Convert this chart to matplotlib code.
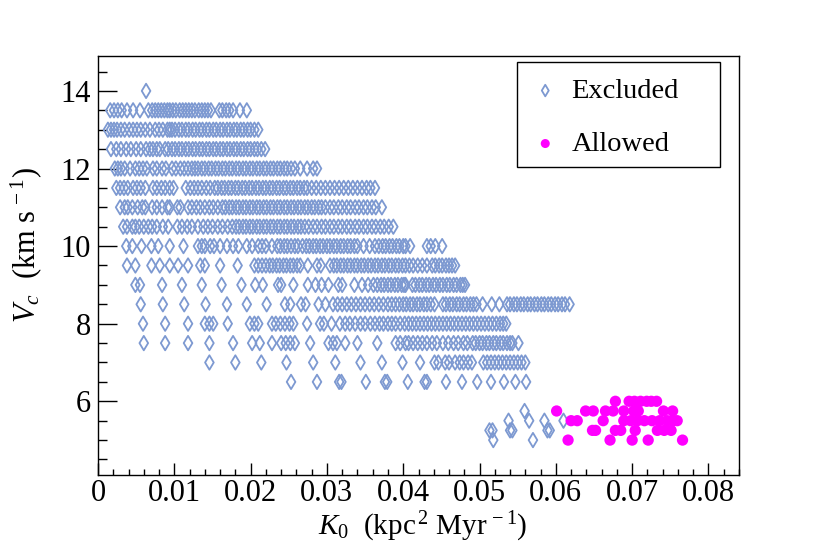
import numpy as np
import matplotlib
matplotlib.use("Agg")
import matplotlib.pyplot as plt
from matplotlib.patches import Rectangle

plt.rcParams['font.family'] = ['Liberation Serif', 'DejaVu Serif']
plt.rcParams['mathtext.fontset'] = 'custom'
plt.rcParams['mathtext.rm'] = 'Liberation Serif'
plt.rcParams['mathtext.it'] = 'Liberation Serif:italic'

# ---- data: K0 in units of 1e-3 kpc^2/Myr, grouped by Vc (km/s) ----
excl_vc = [14.0, 13.5, 13.0, 12.5, 12.0, 11.5, 11.0, 10.5, 10.0, 9.5, 9.0,
           8.5, 8.0, 7.5, 7.0, 6.5, 5.75, 5.5, 5.25, 5.0]
excl_k0 = [
    [6.3],
    [1.6, 2.1, 2.6, 3.1, 3.8, 4.6, 5.5, 6.6, 7.1, 7.5, 7.9, 8.3, 8.7, 9.1, 9.4, 9.8,
     10.2, 10.7, 11.1, 11.5, 11.9, 12.3, 12.7, 13.2, 13.6, 14.0, 14.4, 14.8,
     15.9, 16.3, 16.8, 17.2, 17.7, 18.6, 19.5],
    [1.3, 1.7, 2.1, 2.5, 3.0, 3.5, 4.1, 4.6, 5.1, 5.6, 6.2, 6.8, 7.5, 8.0, 8.5, 9.1,
     9.4, 9.7, 10.1, 10.6, 11.0, 11.5, 11.9, 12.4, 12.8, 13.3, 13.7, 14.2, 14.6,
     15.1, 15.5, 16.0, 16.4, 16.9, 17.3, 17.8, 18.2, 18.7, 19.1, 19.6, 20.0, 20.5, 21.0],
    [1.7, 2.4, 3.0, 3.7, 4.3, 5.0, 5.6, 6.3, 6.8, 7.2, 7.7, 8.1, 8.8, 9.2, 9.7, 10.1,
     10.6, 11.0, 11.5, 11.9, 12.4, 12.8, 13.3, 13.7, 14.2, 14.6, 15.1, 15.5, 16.0,
     16.4, 16.9, 17.3, 17.8, 18.2, 18.7, 19.1, 19.6, 20.0, 20.5, 20.9, 21.4, 21.9],
    [2.2, 2.6, 3.0, 3.5, 4.2, 4.9, 5.4, 5.9, 6.4, 7.2, 7.7, 8.4, 8.9, 9.7, 10.2, 10.8,
     11.3, 11.8, 12.3, 12.7, 13.1, 13.6, 14.0, 14.5, 14.9, 15.4, 15.8, 16.3, 16.7,
     17.2, 17.6, 18.1, 18.5, 19.0, 19.4, 19.9, 20.3, 20.8, 21.2, 21.7, 22.1, 22.6,
     23.0, 23.5, 23.9, 24.4, 24.8, 25.3, 25.8, 26.5, 27.4, 28.2, 28.7],
    [2.4, 2.9, 3.4, 3.9, 4.6, 5.1, 5.6, 6.2, 7.2, 7.7, 8.3, 8.8, 9.4, 9.9, 11.5, 12.1,
     12.6, 13.1, 13.6, 14.2, 14.7, 15.3, 15.7, 16.2, 16.6, 17.1, 17.5, 18.0, 18.4,
     18.9, 19.3, 19.8, 20.2, 20.7, 21.1, 21.6, 22.0, 22.5, 22.9, 23.4, 23.8, 24.3,
     24.7, 25.2, 25.6, 26.1, 26.5, 27.0, 27.4, 28.0, 28.6, 29.2, 29.8, 30.4, 31.0,
     31.6, 32.2, 32.8, 33.4, 34.0, 34.6, 35.2, 35.7, 36.3],
    [2.9, 3.5, 3.9, 4.5, 5.2, 5.8, 6.2, 7.1, 7.7, 8.4, 9.1, 9.4, 10.4, 10.8, 11.8, 12.3,
     12.9, 13.4, 14.0, 14.6, 15.1, 15.7, 16.3, 16.7, 17.2, 17.6, 18.1, 18.5, 19.0,
     19.4, 19.9, 20.3, 20.8, 21.2, 21.7, 22.1, 22.6, 23.0, 23.5, 23.9, 24.4, 24.8,
     25.3, 25.7, 26.2, 26.6, 27.1, 27.5, 28.0, 28.4, 28.9, 29.3, 29.8, 30.4, 30.9,
     31.5, 32.0, 32.6, 33.1, 33.7, 34.2, 34.8, 35.3, 35.9, 36.4, 37.2],
    [3.3, 3.8, 4.5, 4.9, 5.4, 6.0, 6.6, 7.1, 7.7, 8.5, 9.2, 10.4, 11.0, 11.7, 12.3,
     13.1, 13.8, 14.4, 15.0, 15.7, 16.3, 17.0, 17.6, 18.1, 18.5, 19.0, 19.4, 19.9,
     20.3, 20.8, 21.2, 21.7, 22.1, 22.6, 23.0, 23.5, 23.9, 24.4, 24.8, 25.3, 25.7,
     26.2, 26.6, 27.1, 27.6, 28.2, 28.7, 29.3, 29.8, 30.4, 30.9, 31.5, 32.0, 32.6,
     33.1, 33.7, 34.2, 34.8, 35.3, 35.9, 36.4, 37.0, 37.5, 38.1, 38.7],
    [3.7, 4.5, 5.7, 7.0, 7.9, 9.4, 11.2, 13.1, 13.6, 14.0, 14.7, 15.2, 16.0, 16.9, 17.7,
     18.4, 19.5, 20.2, 21.0, 21.5, 22.0, 22.8, 23.5, 23.9, 24.4, 24.8, 25.3, 25.8,
     26.2, 26.8, 27.3, 27.7, 28.2, 28.6, 29.1, 29.5, 30.0, 30.4, 30.9, 31.3, 31.8,
     32.2, 32.7, 33.1, 33.6, 34.0, 34.8, 35.6, 36.3, 36.8, 37.3, 37.7, 38.2, 38.6,
     39.1, 39.5, 40.0, 40.3, 40.9, 43.1, 43.6, 44.2, 45.1],
    [3.8, 4.9, 7.0, 8.1, 9.4, 10.5, 11.8, 13.4, 14.0, 16.0, 18.3, 20.5, 21.0, 21.5,
     22.0, 22.5, 22.9, 23.4, 23.8, 24.3, 24.7, 25.2, 25.6, 26.1, 26.5, 27.5, 28.7,
     29.2, 30.4, 30.9, 31.3, 31.8, 32.2, 32.7, 33.1, 33.6, 34.0, 34.5, 34.9, 35.4,
     35.8, 36.3, 36.7, 37.2, 37.6, 38.1, 38.5, 39.0, 39.4, 39.9, 40.3, 40.8, 41.3,
     41.9, 42.5, 43.1, 43.8, 44.2, 44.7, 45.1, 45.6, 46.0, 46.4, 46.8],
    [4.9, 5.5, 8.4, 11.0, 13.6, 16.2, 18.8, 20.6, 21.6, 23.6, 24.0, 25.6, 27.5, 28.5,
     29.3, 30.2, 31.5, 32.0, 33.6, 34.6, 35.4, 36.1, 36.6, 37.1, 37.5, 38.0, 38.4,
     38.9, 39.3, 39.8, 40.1, 40.3, 41.2, 41.6, 42.1, 42.5, 43.0, 43.4, 43.9, 44.3,
     44.8, 45.2, 45.7, 46.1, 46.6, 47.0, 47.5, 47.8, 48.1],
    [5.6, 8.5, 11.3, 14.1, 16.9, 19.5, 22.1, 24.5, 25.2, 26.6, 27.2, 28.9, 29.8, 30.8,
     31.4, 32.0, 32.6, 33.2, 33.8, 34.4, 35.0, 35.6, 36.2, 36.8, 37.4, 38.0, 38.5,
     39.0, 39.5, 40.0, 40.4, 40.9, 41.3, 41.8, 42.2, 42.7, 43.1, 43.6, 44.1, 45.2,
     45.6, 46.1, 46.5, 47.0, 47.4, 47.9, 48.3, 48.8, 49.2, 49.6, 50.4, 51.6, 52.6,
     53.6, 54.0, 54.5, 54.9, 55.4, 55.8, 56.3, 56.7, 57.2, 57.6, 58.1, 58.5, 59.0,
     59.4, 59.9, 60.3, 60.8, 61.2, 61.8],
    [5.9, 8.8, 11.8, 14.0, 14.6, 15.1, 17.0, 19.9, 20.5, 21.0, 22.8, 23.3, 23.9, 24.5,
     25.1, 25.6, 27.4, 29.1, 29.6, 30.6, 31.7, 32.4, 33.0, 33.7, 34.4, 35.0, 35.7,
     36.3, 36.9, 37.4, 38.0, 38.5, 39.0, 39.6, 40.2, 40.7, 41.2, 41.7, 42.2, 42.7,
     43.2, 43.7, 44.2, 44.7, 45.2, 45.7, 46.2, 46.7, 47.2, 47.7, 48.2, 48.7, 49.2,
     49.7, 50.2, 50.7, 51.2, 51.7, 52.2, 52.7, 53.1, 53.5],
    [6.0, 8.8, 11.8, 14.6, 17.7, 20.2, 21.2, 22.8, 24.0, 24.6, 25.2, 25.8, 27.8, 30.2,
     30.8, 31.3, 32.4, 34.0, 36.6, 39.0, 39.6, 40.3, 40.7, 41.3, 41.9, 42.5, 43.1,
     43.8, 44.4, 45.2, 45.9, 46.6, 47.2, 47.9, 48.4, 49.1, 49.5, 50.0, 50.4, 50.9,
     51.3, 51.8, 52.2, 52.7, 53.1, 53.6, 54.0, 54.3, 55.1],
    [14.6, 18.0, 21.4, 24.7, 28.2, 31.1, 34.4, 37.2, 39.9, 42.2, 44.1, 44.6, 45.5,
     46.0, 46.8, 47.4, 47.9, 48.5, 49.0, 50.5, 51.0, 51.5, 52.0, 52.5, 53.0, 53.5,
     54.0, 54.5, 55.0, 55.5, 56.0],
    [25.3, 28.7, 31.6, 31.9, 35.1, 37.6, 37.9, 40.6, 42.8, 43.1, 45.6, 47.7, 49.7,
     51.5, 53.2, 54.7, 56.1],
    [55.9],
    [53.8, 56.5, 58.5, 61.0],
    [51.3, 51.7, 54.0, 54.3, 58.9, 59.2],
    [51.8, 57.0],
]

allow_vc = [6.0, 5.75, 5.5, 5.25, 5.0]
allow_k0 = [
    [67.8, 69.6, 70.3, 71.1, 71.9, 72.5, 73.2],
    [60.1, 63.9, 64.9, 66.5, 67.5, 68.9, 70.2, 70.8, 74.1, 75.3],
    [62.0, 62.8, 66.2, 68.9, 69.8, 70.7, 71.6, 72.6, 73.6, 74.6, 75.4, 75.9],
    [64.8, 65.2, 67.8, 68.5, 70.4, 73.3, 74.2, 75.1],
    [61.6, 67.1, 70.0, 72.1, 76.6],
]

x_ticks = [0, 0.01, 0.02, 0.03, 0.04, 0.05, 0.06, 0.07, 0.08]
x_ticklabels = ["0", "0.01", "0.02", "0.03", "0.04", "0.05", "0.06", "0.07", "0.08"]
y_ticks = [6, 8, 10, 12, 14]

ex_x = np.concatenate([np.array(r) * 1e-3 for r in excl_k0])
ex_y = np.concatenate([np.full(len(r), v) for r, v in zip(excl_k0, excl_vc)])
al_x = np.concatenate([np.array(r) * 1e-3 for r in allow_k0])
al_y = np.concatenate([np.full(len(r), v) for r, v in zip(allow_k0, allow_vc)])

fig = plt.figure(figsize=(8.22, 5.60), dpi=100)
ax = fig.add_axes([98 / 822, 85 / 560, 641 / 822, 419 / 560])

ax.scatter(ex_x, ex_y, marker='d', s=54, facecolors='none',
           edgecolors='#7d99d1', linewidths=1.3, label='Excluded', zorder=2)
ax.scatter(al_x, al_y, marker='o', s=66, color='#ff00ff',
           edgecolors='none', label='Allowed', zorder=3)

ax.set_xlim(0, 0.084)
ax.set_ylim(4.1, 14.9)
ax.set_xticks(x_ticks)
ax.set_xticklabels(x_ticklabels)
ax.set_xticks(np.arange(0, 0.0841, 0.002), minor=True)
ax.set_yticks(y_ticks)
ax.set_yticks(np.arange(4.5, 14.9, 0.5), minor=True)

ax.tick_params(axis='x', which='major', direction='in', length=8.6, width=1.0,
               labelsize=22, pad=3, top=False)
ax.tick_params(axis='x', which='minor', direction='in', length=4.3, width=1.0, top=False)
ax.tick_params(axis='y', which='major', direction='in', length=13.5, width=1.0,
               labelsize=22, pad=5, right=False)
ax.tick_params(axis='y', which='minor', direction='in', length=6.8, width=1.0, right=False)
for sp in ax.spines.values():
    sp.set_linewidth(1.0)

# axis titles placed in figure pixels (ROOT-style positions)
fig.text(423 / 822, 1 - 527 / 560, r"$K_0$  (kpc$^{\,2}$ Myr$^{\,-1}$)", fontsize=21,
         ha='center', va='center')
fig.text(26 / 822, 1 - 245 / 560, r"$V_c$  (km s$^{\,-1}$)", fontsize=22,
         ha='center', va='center', rotation=90)

# legend box
ax.add_patch(Rectangle((0.654, 0.735), 0.316, 0.251, transform=ax.transAxes,
                       facecolor='white', edgecolor='black', linewidth=1.0, zorder=4))
leg = ax.legend(loc='upper left', bbox_to_anchor=(0.654, 0.986), frameon=False,
                fontsize=20.5, handlelength=0.83, handletextpad=0.5, borderpad=0.57,
                borderaxespad=0.0, labelspacing=0.95, scatterpoints=1, markerscale=0.8)
leg.set_zorder(5)

fig.savefig("out.png", dpi=100)
